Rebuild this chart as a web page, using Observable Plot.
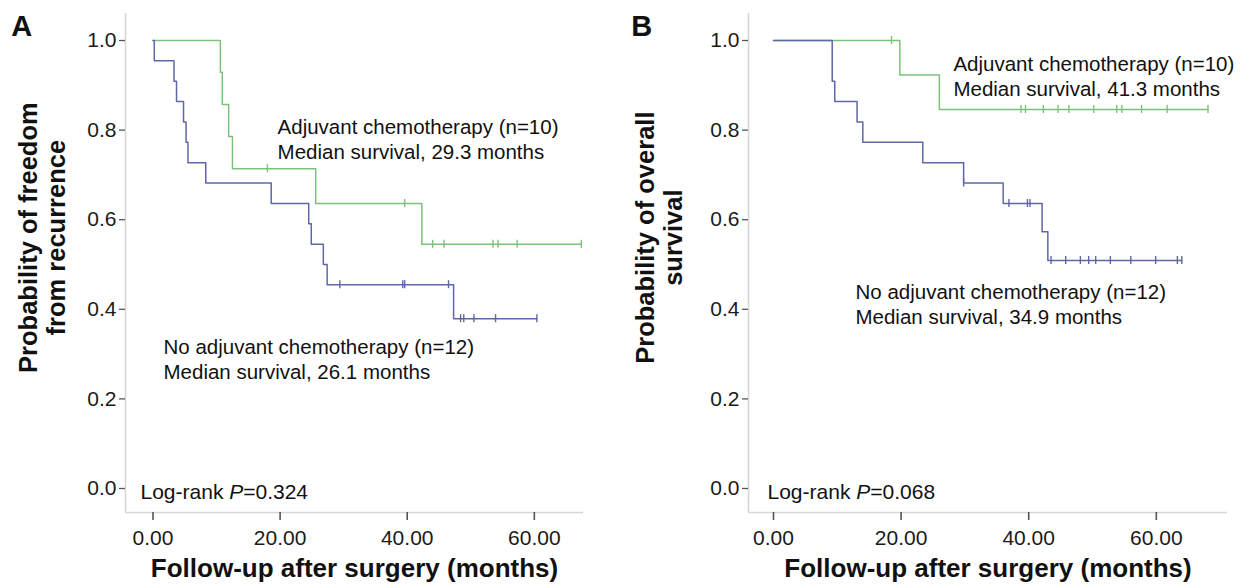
<!DOCTYPE html>
<html><head><meta charset="utf-8">
<script src="https://cdn.jsdelivr.net/npm/d3@7"></script>
<script src="https://cdn.jsdelivr.net/npm/@observablehq/plot@0.6"></script>
<style>
body{margin:0;background:#fff}
#wrap{display:flex;width:1248px;height:584px;overflow:hidden}
svg{overflow:visible}
</style>
</head><body><div id="wrap"></div>
<script>
// ---------- data ----------
const xTicks = [0, 20, 40, 60];
const yTicks = [0, 0.2, 0.4, 0.6, 0.8, 1.0];

// Panel A: freedom from recurrence
const aGreenT = [0, 10.6, 10.9, 11.9, 12.5, 25.6, 42.3, 67.4];
const aGreenS = [1, 0.929, 0.857, 0.786, 0.714, 0.636, 0.545, 0.545];
const aGreenCT = [18.0, 39.6, 44.0, 45.8, 53.5, 54.3, 57.3, 67.4];
const aGreenCS = [0.714, 0.636, 0.545, 0.545, 0.545, 0.545, 0.545, 0.545];
const aBlueT = [0, 0.2, 3.3, 3.7, 4.8, 5.2, 5.5, 8.3, 18.6, 24.5, 24.9, 26.8, 27.4, 47.3, 60.4];
const aBlueS = [1, 0.955, 0.909, 0.864, 0.818, 0.773, 0.727, 0.682, 0.636, 0.591, 0.545, 0.500, 0.455, 0.379, 0.379];
const aBlueCT = [29.4, 39.3, 39.6, 46.5, 48.4, 48.9, 50.5, 53.9, 60.4];
const aBlueCS = [0.455, 0.455, 0.455, 0.455, 0.379, 0.379, 0.379, 0.379, 0.379];

// Panel B: overall survival
const bGreenT = [0, 19.8, 26.0, 68.1];
const bGreenS = [1, 0.923, 0.846, 0.846];
const bGreenCT = [18.5, 38.8, 39.5, 42.3, 44.6, 46.3, 50.2, 53.8, 54.6, 57.7, 61.7, 68.1];
const bGreenCS = [1, 0.846, 0.846, 0.846, 0.846, 0.846, 0.846, 0.846, 0.846, 0.846, 0.846, 0.846];
const bBlueT = [0, 9.2, 9.6, 13.1, 14.0, 23.4, 29.8, 36.0, 42.1, 43.0, 64.0];
const bBlueS = [1, 0.909, 0.864, 0.818, 0.773, 0.727, 0.682, 0.636, 0.573, 0.509, 0.509];
const bBlueCT = [29.8, 36.9, 39.8, 40.2, 43.5, 45.8, 48.1, 49.4, 50.5, 52.8, 56.0, 59.9, 63.3, 64.0];
const bBlueCS = [0.682, 0.636, 0.636, 0.636, 0.509, 0.509, 0.509, 0.509, 0.509, 0.509, 0.509, 0.509, 0.509, 0.509];

const aLabels = ["Adjuvant chemotherapy (n=10)\nMedian survival, 29.3 months",
                 "No adjuvant chemotherapy (n=12)\nMedian survival, 26.1 months"];
const bLabels = ["Adjuvant chemotherapy (n=10)\nMedian survival, 41.3 months",
                 "No adjuvant chemotherapy (n=12)\nMedian survival, 34.9 months"];
const aLogRank = "0.324", bLogRank = "0.068";
const xTitle = "Follow-up after surgery (months)";
const aYTitle = "Probability of freedom\nfrom recurrence";
const bYTitle = "Probability of overall\nsurvival";

// ---------- style ----------
const GREEN = "#7cc27a", BLUE = "#5f68a6", FRAME = "#d6d6d6";
const FONT = "'Liberation Sans', Arial, Helvetica, sans-serif";
const yDomain = [-0.0536, 1.0603];

const zip = (T, S) => T.map((t, i) => ({t, s: S[i]}));

function panel(o) {
  const green = zip(o.gT, o.gS), blue = zip(o.bT, o.bS);
  const gC = zip(o.gCT, o.gCS), bC = zip(o.bCT, o.bCS);
  const xmid = (o.xDomain[0] + o.xDomain[1]) / 2;
  const svg = Plot.plot({
    width: 624, height: 584,
    marginLeft: o.marginLeft, marginRight: o.marginRight, marginTop: 13, marginBottom: 72,
    x: {domain: o.xDomain},
    y: {domain: yDomain},
    style: {fontFamily: FONT, fontSize: "21px", color: "#1a1a1a", background: "white", overflow: "visible"},
    marks: [
      Plot.ruleX([o.xDomain[0]], {stroke: FRAME, strokeWidth: 1.6}),
      Plot.ruleY([yDomain[0]], {stroke: FRAME, strokeWidth: 1.6}),
      Plot.axisY({ticks: yTicks, tickFormat: d3.format(".1f"), tickSize: 6, tickPadding: 3,
                  label: null, stroke: "#555", strokeWidth: 1.3}),
      Plot.axisX({ticks: xTicks, tickFormat: d3.format(".2f"), tickSize: 8, tickPadding: 10,
                  label: null, stroke: "#555", strokeWidth: 1.6}),
      Plot.line(green, {x: "t", y: "s", curve: "step-after", stroke: GREEN, strokeWidth: 1.5}),
      Plot.line(blue, {x: "t", y: "s", curve: "step-after", stroke: BLUE, strokeWidth: 1.5}),
      Plot.ruleX(gC, {x: "t", y1: d => d.s - 0.009, y2: d => d.s + 0.009, stroke: GREEN, strokeWidth: 1.4}),
      Plot.ruleX(bC, {x: "t", y1: d => d.s - 0.009, y2: d => d.s + 0.009, stroke: BLUE, strokeWidth: 1.4}),
      Plot.text(o.labels, {x: (d, i) => o.labelX[i], y: (d, i) => o.labelY[i], text: d => d,
                textAnchor: "start", lineAnchor: "middle", lineHeight: 1.22, fontSize: 20.5, fill: "#111"}),
      Plot.text(["Log-rank P=" + o.logrank], {x: o.logX, y: -0.008, text: d => d, textAnchor: "start",
                lineAnchor: "middle", fontSize: 21, fill: "#111"}),
      Plot.text([xTitle], {x: xmid, y: -0.178, text: d => d, textAnchor: "middle", lineAnchor: "middle",
                fontSize: 26, fontWeight: "bold", fill: "#111"}),
      Plot.text([o.yTitle], {x: o.yTitleX, y: 0.56, text: d => d, textAnchor: "middle", lineAnchor: "middle",
                rotate: -90, lineHeight: 1.1, fontSize: 25.5, fontWeight: "bold", fill: "#111"}),
      Plot.text([o.letter], {x: o.letterX, y: 1.03, text: d => d, textAnchor: "start", lineAnchor: "middle",
                fontSize: 29, fontWeight: "bold", fill: "#111"})
    ]
  });
  // italic P in the log-rank note
  d3.select(svg).selectAll("text").filter(function() { return this.textContent.startsWith("Log-rank"); })
    .each(function() {
      const t = d3.select(this);
      const val = this.textContent.split("=")[1];
      t.text(null);
      t.append("tspan").text("Log-rank ");
      t.append("tspan").attr("font-style", "italic").text("P");
      t.append("tspan").text("=" + val);
    });
  return svg;
}

const wrap = document.getElementById("wrap");
wrap.appendChild(panel({
  xDomain: [-4.33, 67.74], marginLeft: 125, marginRight: 41,
  gT: aGreenT, gS: aGreenS, bT: aBlueT, bS: aBlueS,
  gCT: aGreenCT, gCS: aGreenCS, bCT: aBlueCT, bCS: aBlueCS,
  labels: aLabels, labelX: [19.6, 1.65], labelY: [0.781, 0.290],
  logrank: aLogRank, logX: -1.97, yTitle: aYTitle, yTitleX: -17.4, letter: "A", letterX: -22.3
}));
wrap.appendChild(panel({
  xDomain: [-3.92, 71.16], marginLeft: 124, marginRight: 21,
  gT: bGreenT, gS: bGreenS, bT: bBlueT, bS: bBlueS,
  gCT: bGreenCT, gCS: bGreenCS, bCT: bBlueCT, bCS: bBlueCS,
  labels: bLabels, labelX: [28.2, 12.85], labelY: [0.923, 0.413],
  logrank: bLogRank, logX: -0.94, yTitle: bYTitle, yTitleX: -18.0, letter: "B", letterX: -22.3
}));
</script>
</body></html>
